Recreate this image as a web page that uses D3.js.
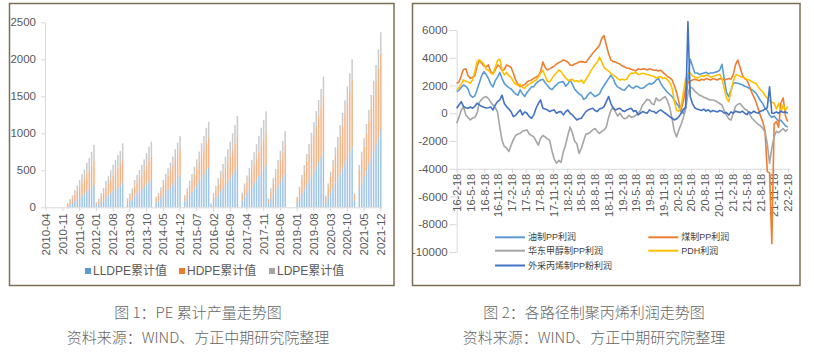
<!DOCTYPE html>
<html><head><meta charset="utf-8">
<script src="https://cdn.jsdelivr.net/npm/d3@7"></script>
<style>
body{margin:0;background:#fff;}
svg{display:block;}
.ax text{font-family:"Liberation Sans",Arial,sans-serif;fill:#595959;}
.ax path,.ax line{stroke:#d9d9d9;}
</style>
</head><body>
<svg id="c" width="814" height="357"></svg>
<script>
// ---------------- Chart 1: PE cumulative production ----------------
const peMonths = d3.timeMonth.range(new Date(2010,3,1), new Date(2022,0,1)).map(d3.timeFormat("%Y-%m"));
const peTickLabels = ["2010-04","2010-11","2011-06","2012-01","2012-08","2013-03","2013-10","2014-05","2014-12","2015-07","2016-02","2016-09","2017-04","2017-11","2018-06","2019-01","2019-08","2020-03","2020-10","2021-05","2021-12"];
const peYTicks = [0,500,1000,1500,2000,2500];
const peSeriesNames = ["LLDPE累计值","HDPE累计值","LDPE累计值"];
const N = null;
const lldpe = [N,N,N,N,N,N,N,N,N,
 21,40,58,83,107,133,161,184,217,240,270,301,
 27,45,73,100,137,162,193,221,246,271,293,333,
 N,52,81,109,157,186,215,244,276,311,349,378,
 N,65,89,122,167,204,239,273,310,355,395,436,
 N,78,120,168,210,256,303,351,404,450,502,540,
 40,84,128,174,220,260,304,349,395,445,495,549,
 N,88,141,190,234,282,329,377,425,475,520,572,
 54,114,174,229,284,340,399,459,N,N,N,N,
 59,117,184,240,303,360,424,484,547,610,673,743,
 66,133,197,262,332,390,455,523,592,670,743,819,
 84,N,252,332,412,498,581,671,756,850,944,1045];
const hdpe = [N,N,N,N,N,N,N,N,N,
 23,43,62,90,115,144,174,199,235,260,293,329,
 25,42,69,95,129,153,182,209,233,257,277,315,
 N,42,65,89,127,150,174,197,224,252,283,306,
 N,52,71,97,133,162,190,218,247,283,315,348,
 N,57,89,125,156,190,224,260,299,334,372,400,
 10,62,94,129,162,192,224,257,291,328,365,405,
 N,66,106,142,175,211,246,282,318,355,389,428,
 45,95,145,191,237,284,332,383,N,N,N,N,
 60,119,186,243,307,364,429,490,554,618,681,752,
 72,146,216,288,365,428,500,574,650,736,815,901,
 83,N,250,329,408,493,576,665,749,842,935,1036];
const ldpe = [N,N,N,N,N,N,N,N,N,
 14,27,40,57,74,92,111,128,151,166,187,212,
 18,29,48,65,89,105,125,145,161,177,190,217,
 N,27,43,59,85,100,115,131,148,167,187,203,
 N,26,37,51,69,84,98,112,127,146,163,179,
 N,31,48,67,84,103,121,141,162,180,201,217,
 4,43,66,89,113,133,156,178,201,227,252,280,
 N,46,73,98,121,147,170,196,220,246,271,297,
 22,48,73,94,118,141,165,189,N,N,N,N,
 21,43,66,88,110,131,155,176,199,222,245,270,
 22,45,68,89,113,132,155,178,203,229,253,280,
 22,N,69,91,112,135,158,182,206,231,256,284];
const peColors = ["#5B9BD5","#ED7D31","#A5A5A5"];

// ---------------- Chart 2: PP profit by route ----------------
const ppStart = new Date(2016,1,18);
const ppEnd = new Date(2022,1,18);
const ppDates = d3.range(147).map(i => d3.timeDay.offset(ppStart, 15*i));
const ppTickLabels = ["16-2-18","16-5-18","16-8-18","16-11-18","17-2-18","17-5-18","17-8-18","17-11-18","18-2-18","18-5-18","18-8-18","18-11-18","19-2-18","19-5-18","19-8-18","19-11-18","20-2-18","20-5-18","20-8-18","20-11-18","21-2-18","21-5-18","21-8-18","21-11-18","22-2-18"];
const ppYTicks = [-10000,-8000,-6000,-4000,-2000,0,2000,4000,6000];
const ppNames = ["油制PP利润","煤制PP利润","华东甲醇制PP利润","PDH利润","外采丙烯制PP粉利润"];
const ppColors = ["#5B9BD5","#ED7D31","#A5A5A5","#FFC000","#4472C4"];
const oilPP = [1560,1650,1850,2040,1950,1750,1300,1150,1250,1700,
 2200,2700,3000,2800,2500,2100,1900,2350,2600,2950,
 2500,2150,1980,1850,1750,1560,1400,1300,1680,1400,
 1200,1500,1700,1900,1920,2150,2300,2400,2450,2200,
 2000,1800,1700,1900,2050,2200,2250,2280,1950,2100,
 2400,2100,1750,1560,1400,1300,1000,1100,1350,1500,
 1350,1200,1300,1400,1750,2000,2250,2500,2750,2500,
 2100,1900,1800,1700,1650,1850,2040,1850,1800,1950,
 1920,1800,1800,1900,2040,2150,2100,2200,2400,2520,
 2150,1900,1700,1500,1350,1200,960,700,480,100,
 0,500,2400,3900,3400,2900,2900,2800,2850,2900,
 2950,2850,2900,2900,2950,3000,3100,3530,2500,1500,
 1190,1700,2160,2200,2160,2100,2050,1950,1900,1800,
 1700,1600,1450,1190,900,700,356,200,-130,-300,
 -200,-400,-600,-500,-700,-900,-1000];
const coalPP = [2160,2250,2700,3150,3200,2700,2520,2600,2700,3400,
 3850,3600,3400,3350,3480,3000,2880,3100,3480,3360,
 3100,3150,3480,3400,3300,2880,2400,2100,1920,2000,
 2050,2250,2350,2400,2520,2600,2700,3000,3700,3300,
 3120,3200,3300,3400,3550,3650,3720,3840,3780,3700,
 3480,3450,3550,3600,3700,3720,3700,3650,3900,4100,
 4320,4500,4700,4900,5400,5600,4900,4300,3840,3720,
 3700,3600,3550,3400,3360,3250,3240,3150,3120,3050,
 3200,3150,3180,3200,3120,3200,3150,3100,3120,3050,
 3100,2950,2800,2650,2550,2400,2000,1500,800,240,
 900,1800,2200,2300,2400,2450,2400,2350,2450,2400,
 2500,2450,2400,2500,2450,2400,2500,2450,2400,2450,
 2500,2450,2800,3500,3840,3300,2750,2500,2400,2000,
 1550,1200,830,300,-200,-600,-1300,-4200,-4300,-9400,
 -800,-600,-1000,740,1100,-200,-600];
const methanolPP = [-720,-300,240,430,-100,-300,-480,-350,-300,0,
 800,1000,1150,1200,1050,800,600,400,100,-1000,
 -1950,-2400,-2500,-2760,-2300,-1900,-1600,-1500,-1440,-1300,
 -1250,-1200,-1500,-1600,-1700,-2000,-2300,-1800,-1600,-1700,
 -1850,-1950,-2700,-3300,-3600,-3400,-3550,-2800,-2300,-1600,
 -1000,-1400,-2000,-2200,-2900,-2500,-2000,-1500,-1470,-1350,
 -1200,-1100,-1300,-1450,-1300,-1200,-1000,-300,200,450,
 100,-200,0,-250,-400,-350,-150,-300,-250,-150,
 0,200,600,800,1000,950,700,600,1100,900,
 960,1100,1200,900,400,-400,-1300,-1700,-1200,-800,
 -300,300,1400,1900,1800,1600,1450,1315,1250,1150,
 1100,1000,950,955,900,800,700,595,200,-130,
 -400,-490,0,500,650,700,500,300,235,0,
 -300,-490,-650,-800,-900,-1100,-1330,-2200,-3600,-2500,
 -1700,-1300,-1400,-1250,-1100,-1300,-1150];
const pdhPP = [1680,1850,2100,2400,2300,2250,2160,2400,3000,3700,
 3840,3700,3550,3150,3100,2900,2800,3300,3800,3900,
 3100,2760,2950,2700,2600,2280,2100,2000,2100,1850,
 1800,2000,2100,2200,2300,2400,2600,2880,3100,2700,
 2300,2250,2500,2750,2900,3120,3000,2750,2550,2400,
 2350,2450,2300,2350,2250,2400,2160,2450,2700,3000,
 3250,3500,3700,4050,3700,3300,3150,3050,2880,2750,
 2640,2500,2400,2450,2400,2450,2750,2900,2880,2950,
 2800,2820,2880,2850,2800,2750,2700,2650,2550,2600,
 2640,2500,2550,2400,2200,1800,900,200,150,500,
 1500,2500,2880,2900,2700,2600,2550,2600,2700,2650,
 2750,2700,2600,2650,2700,2750,2800,2500,1800,1100,
 830,1600,2300,2750,2750,2650,2600,2550,2450,2400,
 2300,2200,2160,1900,1700,1550,1300,1080,900,800,
 740,300,700,100,600,200,500];
const propylenePP = [360,600,840,480,400,360,450,360,500,720,
 600,500,430,380,400,450,240,600,840,960,
 1300,700,480,300,100,-240,-150,50,240,-120,
 100,0,-240,-360,-120,360,700,960,360,300,
 240,120,200,240,0,100,120,-120,100,240,
 0,-120,-300,-480,-400,-360,-120,120,240,300,
 360,200,120,300,360,480,840,1200,700,360,
 240,300,360,200,120,240,300,360,120,200,
 -120,0,120,50,0,240,150,120,0,150,
 240,120,0,-120,-250,-360,-480,-400,-250,0,
 300,400,6600,1200,700,400,300,250,200,300,
 150,250,100,200,150,100,200,150,0,50,
 -130,100,0,150,100,50,150,0,-100,100,
 0,150,50,0,150,200,300,400,1900,0,
 0,100,0,150,50,100,0];
const ppSeries = [oilPP, coalPP, methanolPP, pdhPP, propylenePP];

const captions = [
  {title:"图 1：PE 累计产量走势图", source:"资料来源：WIND、方正中期研究院整理", cx:198},
  {title:"图 2：各路径制聚丙烯利润走势图", source:"资料来源：WIND、方正中期研究院整理", cx:594}
];

// ---------------- Drawing ----------------
const svg = d3.select("#c");
const cjk = '"Liberation Sans","Noto Sans CJK SC",sans-serif';

// frames
svg.append("rect").attr("x",9.5).attr("y",3.5).attr("width",384.5).attr("height",282)
  .attr("fill","#fff").attr("stroke","#7b6f57").attr("stroke-width",1.5);
svg.append("rect").attr("x",412.5).attr("y",3.5).attr("width",387.5).attr("height",282)
  .attr("fill","#fff").attr("stroke","#7b6f57").attr("stroke-width",1.5);

// ---- Chart 1
const xL = d3.scaleBand().domain(peMonths).range([45,382]).padding(0);
const yL = d3.scaleLinear().domain([0,2500]).range([207.3,22.3]);
const table = peMonths.map((m,i)=>({month:m, LLDPE:lldpe[i]||0, HDPE:hdpe[i]||0, LDPE:ldpe[i]||0}));
const stack = d3.stack().keys(["LLDPE","HDPE","LDPE"])(table);

const gYL = svg.append("g").attr("class","ax").attr("transform","translate(45,0)")
  .call(d3.axisLeft(yL).tickValues(peYTicks).tickSize(4).tickSizeOuter(0).tickPadding(5).tickFormat(d=>String(d)));
gYL.selectAll("text").attr("font-size",11.5);

const barW = 1.5;
stack.forEach((layer,si)=>{
  svg.append("g").selectAll("rect").data(layer.filter(d=>d[1]-d[0]>0)).join("rect")
    .attr("x", d=>xL(d.data.month)+(xL.bandwidth()-barW)/2)
    .attr("width", barW)
    .attr("y", d=>yL(d[1]))
    .attr("height", d=>yL(d[0])-yL(d[1]))
    .attr("fill", peColors[si]).attr("fill-opacity",0.58);
});

const gXL = svg.append("g").attr("class","ax").attr("transform","translate(0,207.3)")
  .call(d3.axisBottom(xL).tickValues(peTickLabels).tickSize(4).tickSizeOuter(0));
gXL.selectAll("text").attr("transform","rotate(-90)").attr("text-anchor","end")
  .attr("x",-6).attr("y",0).attr("dy","0.35em").attr("font-size",11.5);

// legend chart 1
const legL = svg.append("g");
const legLx = [85,179,269];
peSeriesNames.forEach((n,i)=>{
  legL.append("rect").attr("x",legLx[i]).attr("y",268).attr("width",6).attr("height",6).attr("fill",peColors[i]);
  legL.append("text").attr("x",legLx[i]+8).attr("y",271).attr("dy","0.35em")
    .attr("font-family",cjk).attr("font-size",12).attr("fill","#595959").text(n);
});

// ---- Chart 2
const xR = d3.scaleTime().domain([ppStart,ppEnd]).range([456.7,788]);
const yR = d3.scaleLinear().domain([-10000,6000]).range([252,30]);
const parseTick = d3.timeParse("%y-%m-%d");

const gYR = svg.append("g").attr("class","ax").attr("transform","translate(456.7,0)")
  .call(d3.axisLeft(yR).tickValues(ppYTicks).tickSize(7).tickSizeOuter(0).tickPadding(2).tickFormat(d=>String(d)));
gYR.selectAll("text").attr("font-size",11.5);

const gXR = svg.append("g").attr("class","ax").attr("transform",`translate(0,${yR(-4000)})`)
  .call(d3.axisBottom(xR).tickValues(ppTickLabels.map(parseTick)).tickSize(4).tickSizeOuter(0)
    .tickFormat((d,i)=>ppTickLabels[i]));
gXR.select(".domain").attr("d",`M456.7,0.5H790`);
gXR.selectAll("text").attr("transform","rotate(-90)").attr("text-anchor","end")
  .attr("x",-5).attr("y",0).attr("dy","0.35em").attr("font-size",11);

const line = d3.line().defined(d=>d[1]!=null).x(d=>xR(d[0])).y(d=>yR(d[1]));
ppSeries.forEach((s,si)=>{
  svg.append("path").datum(ppDates.map((d,i)=>[d,s[i]]))
    .attr("d",line).attr("fill","none").attr("stroke",ppColors[si])
    .attr("stroke-width",1.6).attr("stroke-linejoin","round");
});

// legend chart 2
const legR = [
  {x:495,y:237.3},{x:648.3,y:237.3},{x:495,y:250.7},{x:648.3,y:250.7},{x:495,y:265.5}
];
ppNames.forEach((n,i)=>{
  const p = legR[i];
  svg.append("line").attr("x1",p.x).attr("x2",p.x+30).attr("y1",p.y).attr("y2",p.y)
    .attr("stroke",ppColors[i]).attr("stroke-width",2);
  svg.append("text").attr("x",p.x+33).attr("y",p.y).attr("dy","0.35em")
    .attr("font-family",cjk).attr("font-size",9).attr("fill","#404040").text(n);
});

// captions
captions.forEach(c=>{
  svg.append("text").attr("x",c.cx).attr("y",313).attr("dy","0.35em").attr("text-anchor","middle")
    .attr("font-family",'"Noto Sans CJK SC",sans-serif').attr("font-weight",300).attr("font-size",15).attr("fill","#666").text(c.title);
  svg.append("text").attr("x",c.cx).attr("y",338).attr("dy","0.35em").attr("text-anchor","middle")
    .attr("font-family",'"Noto Sans CJK SC",sans-serif').attr("font-weight",300).attr("font-size",15).attr("fill","#666").text(c.source);
});
</script>
</body></html>
